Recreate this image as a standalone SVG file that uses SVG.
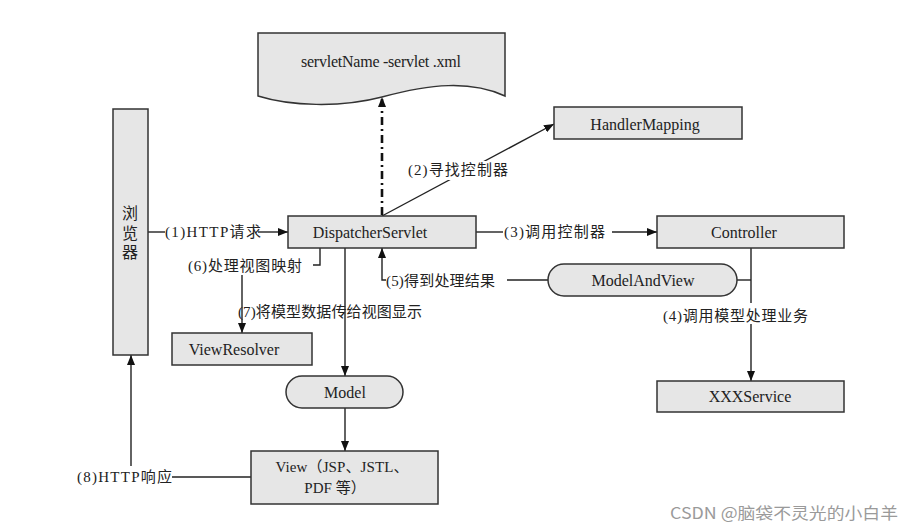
<svg xmlns="http://www.w3.org/2000/svg" width="912" height="531" viewBox="0 0 912 531">
<style>
.box{fill:#e6e6e6;stroke:#333;stroke-width:1.5}
.t{font-family:"Liberation Serif","Noto Sans CJK SC",serif;font-size:15px;fill:#222}
.b{font-size:16px}
.c{text-anchor:middle}
.ln{fill:none;stroke:#222;stroke-width:1.4}
.dd{fill:none;stroke:#111;stroke-width:2.6;stroke-dasharray:8 4 2 4}
.wm{font-family:"Noto Sans CJK SC","Liberation Sans",sans-serif;font-size:16px;fill:#9a9a9a}
</style>
<defs>
<marker id="ah" viewBox="0 0 10 8" refX="10" refY="4" markerWidth="10" markerHeight="8" markerUnits="userSpaceOnUse" orient="auto">
<path d="M0,0 L10,4 L0,8 z" fill="#111"/>
</marker>
</defs>
<rect width="912" height="531" fill="#fff"/>

<g id="connectors">
<path class="ln" d="M148,232 H165"/>
<path class="ln" d="M258,232 H288" marker-end="url(#ah)"/>
<path class="dd" d="M382,215 V97" marker-end="url(#ah)"/>
<path class="ln" d="M382,216 L554,124" marker-end="url(#ah)"/>
<path class="ln" d="M476,232 H503"/>
<path class="ln" d="M612,232 H657" marker-end="url(#ah)"/>
<path class="ln" d="M751,248 V303"/>
<path class="ln" d="M751,324 V381" marker-end="url(#ah)"/>
<path class="ln" d="M737,280 H751"/>
<path class="ln" d="M507,280 H548"/>
<path class="ln" d="M386,280 H382 V248" marker-end="url(#ah)"/>
<path class="ln" d="M320,248 V265 H313"/>
<path class="ln" d="M242,275 V333" marker-end="url(#ah)"/>
<path class="ln" d="M345,248 V376" marker-end="url(#ah)"/>
<path class="ln" d="M345,408 V451" marker-end="url(#ah)"/>
<path class="ln" d="M251,477 H172"/>
<path class="ln" d="M131,466 V355" marker-end="url(#ah)"/>
</g>

<g id="labels">
<text class="t" x="165" y="237" textLength="96" lengthAdjust="spacing">(1)HTTP请求</text>
<rect x="405" y="161" width="106" height="19" fill="#fff"/>
<text class="t" x="408" y="175" textLength="100" lengthAdjust="spacing">(2)寻找控制器</text>
<text class="t" x="504" y="237" textLength="101" lengthAdjust="spacing">(3)调用控制器</text>
<text class="t" x="663" y="321" textLength="145" lengthAdjust="spacing">(4)调用模型处理业务</text>
<text class="t" x="386" y="286" textLength="109" lengthAdjust="spacing">(5)得到处理结果</text>
<text class="t" x="188" y="271" textLength="114" lengthAdjust="spacing">(6)处理视图映射</text>
<text class="t" x="238" y="317" textLength="184" lengthAdjust="spacing">(7)将模型数据传给视图显示</text>
<text class="t" x="77" y="482" textLength="95" lengthAdjust="spacing">(8)HTTP响应</text>
</g>

<g id="servletxml">
<path class="box" d="M258,33 H505 V96 C470,80 430,84 382,97 C340,108 290,106 258,96 Z"/>
<text class="t b c" x="381" y="67" textLength="160" lengthAdjust="spacing">servletName -servlet .xml</text>
</g>

<g id="handlermapping">
<rect class="box" x="554" y="107" width="188" height="32"/>
<text class="t b c" x="645" y="130">HandlerMapping</text>
</g>

<g id="browser">
<rect class="box" x="113" y="109" width="35" height="246"/>
<text class="t b c" x="130" y="219">浏</text>
<text class="t b c" x="130" y="239">览</text>
<text class="t b c" x="130" y="258">器</text>
</g>

<g id="dispatcherservlet">
<rect class="box" x="288" y="216" width="188" height="32"/>
<text class="t b c" x="370" y="238">DispatcherServlet</text>
</g>

<g id="controller">
<rect class="box" x="657" y="216" width="187" height="32"/>
<text class="t b c" x="744" y="238">Controller</text>
</g>

<g id="modelandview">
<rect class="box" x="548" y="264" width="189" height="32" rx="16" ry="16"/>
<text class="t b c" x="643" y="286">ModelAndView</text>
</g>

<g id="viewresolver">
<rect class="box" x="172" y="333" width="140" height="32"/>
<text class="t b c" x="234" y="355">ViewResolver</text>
</g>

<g id="xxxservice">
<rect class="box" x="657" y="381" width="187" height="31"/>
<text class="t b c" x="750" y="402">XXXService</text>
</g>

<g id="model">
<rect class="box" x="286" y="376" width="117" height="32" rx="16" ry="16"/>
<text class="t b c" x="345" y="398">Model</text>
</g>

<g id="view">
<rect class="box" x="251" y="451" width="187" height="53"/>
<text class="t c" x="342" y="472" textLength="133" lengthAdjust="spacing">View（JSP、JSTL、</text>
<text class="t c" x="335" y="493">PDF 等）</text>
</g>

<text class="wm" x="670" y="519" textLength="228" lengthAdjust="spacingAndGlyphs">CSDN @脑袋不灵光的小白羊</text>
</svg>
